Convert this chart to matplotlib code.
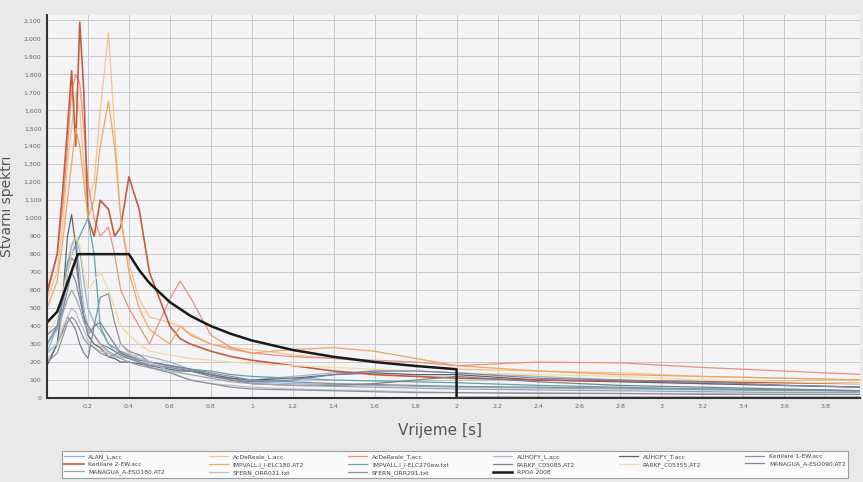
import matplotlib
matplotlib.use("Agg")
from matplotlib import pyplot as plt
from matplotlib.ticker import FuncFormatter
import numpy as np

# periods [s] shared by all records
T = [0, 0.05, 0.08, 0.1, 0.12, 0.14, 0.16, 0.18, 0.2, 0.23, 0.26, 0.3, 0.33, 0.36, 0.4, 0.45,
     0.5, 0.6, 0.65, 0.7, 0.8, 0.9, 1.0, 1.2, 1.4, 1.6, 1.8, 2.0, 2.4, 2.8, 3.2, 3.6, 4.0]

alan_l = [250, 400, 600, 750, 850, 880, 820, 650, 500, 420, 380, 300, 260, 230, 220, 200,
          190, 170, 160, 150, 130, 110, 90, 80, 75, 70, 65, 60, 55, 50, 45, 40, 38]
acde_l = [550, 700, 1000, 1300, 1500, 1700, 1600, 1300, 1100, 1200, 1600, 2030, 1500, 1000, 750, 550,
          450, 420, 400, 360, 300, 280, 270, 240, 220, 200, 180, 160, 150, 140, 120, 110, 100]
acde_t = [600, 800, 1100, 1400, 1700, 1800, 1750, 1500, 1200, 1000, 900, 950, 800, 600, 500, 400,
          300, 550, 650, 560, 350, 280, 250, 230, 220, 210, 200, 180, 200, 195, 170, 150, 130]
auhofy_l = [200, 300, 500, 700, 850, 900, 700, 500, 400, 350, 300, 250, 230, 220, 230, 240,
            230, 200, 180, 160, 130, 110, 100, 120, 140, 150, 150, 140, 120, 100, 80, 70, 60]
auhofy_t = [180, 300, 600, 900, 1020, 850, 600, 450, 350, 300, 280, 230, 220, 200, 200, 190,
            180, 160, 150, 150, 130, 110, 100, 110, 130, 140, 130, 130, 100, 90, 80, 70, 60]
ked1 = [300, 400, 550, 700, 780, 750, 600, 450, 350, 400, 560, 580, 420, 300, 260, 240,
        200, 180, 170, 160, 140, 120, 100, 90, 80, 75, 70, 65, 60, 55, 50, 45, 40]
ked2 = [580, 800, 1200, 1500, 1820, 1400, 2090, 1700, 1000, 900, 1100, 1050, 900, 950, 1230, 1050,
        700, 400, 330, 300, 260, 230, 210, 180, 150, 130, 120, 110, 100, 95, 90, 85, 80]
imp180 = [500, 650, 900, 1100, 1300, 1500, 1400, 1200, 1000, 1100, 1400, 1650, 1400, 1000, 700, 500,
          380, 300, 400, 350, 300, 270, 250, 270, 280, 260, 220, 180, 150, 130, 120, 110, 100]
imp270 = [300, 400, 600, 750, 800, 850, 900, 950, 1000, 800, 400, 300, 280, 250, 230, 220,
          200, 180, 170, 160, 150, 130, 120, 110, 100, 95, 90, 85, 70, 60, 50, 45, 40]
parkf085 = [250, 300, 380, 450, 420, 380, 300, 250, 220, 400, 420, 350, 300, 250, 230, 210,
            200, 180, 170, 160, 130, 100, 80, 70, 70, 80, 100, 120, 90, 70, 60, 50, 40]
parkf355 = [350, 450, 600, 700, 800, 900, 850, 700, 600, 650, 700, 600, 500, 400, 350, 300,
            260, 240, 230, 220, 210, 200, 190, 180, 170, 160, 150, 140, 130, 120, 100, 90, 80]
man090 = [350, 400, 500, 600, 700, 650, 550, 450, 400, 350, 300, 280, 260, 240, 220, 200,
          180, 170, 160, 150, 120, 100, 90, 100, 130, 150, 150, 140, 110, 100, 90, 70, 60]
man180 = [300, 380, 480, 550, 600, 560, 500, 420, 380, 350, 300, 260, 240, 220, 200, 180,
          170, 150, 140, 130, 110, 90, 80, 70, 65, 60, 55, 50, 45, 40, 35, 30, 30]
sfern021 = [250, 300, 400, 450, 500, 480, 420, 380, 320, 280, 260, 250, 240, 300, 250, 220,
            200, 150, 120, 100, 80, 70, 60, 50, 45, 40, 35, 30, 30, 25, 25, 20, 20]
sfern291 = [200, 250, 350, 420, 450, 430, 380, 330, 300, 280, 250, 230, 240, 260, 240, 200,
            170, 140, 120, 100, 80, 60, 50, 45, 40, 35, 30, 30, 25, 25, 20, 20, 20]

# design spectrum
T_rpoa = [0, 0.05, 0.1, 0.15, 0.4, 0.45, 0.5, 0.6, 0.7, 0.8, 0.9, 1.0, 1.2, 1.4, 1.6, 1.8, 2.0, 2.0, 4.0]
rpoa = [420, 480, 640, 800, 800, 711, 640, 533, 457, 400, 356, 320, 267, 229, 200, 178, 160, 0, 0]

records = [
    ("ALAN_L.acc", alan_l, "#8fb4de", 0.9),
    ("AcDeReale_L.acc", acde_l, "#f3c38f", 0.9),
    ("AcDeReale_T.acc", acde_t, "#ee8f7c", 0.9),
    ("AUHOFY_L.acc", auhofy_l, "#aab5cc", 0.9),
    ("AUHOFY_T.acc", auhofy_t, "#5c6473", 0.9),
    ("Kedilare 1-EW.acc", ked1, "#8a8f9a", 0.9),
    ("Kedilare 2-EW.acc", ked2, "#c45c3f", 1.2),
    ("IMPVALL.I_I-ELC180.AT2", imp180, "#f0a560", 0.9),
    ("IMPVALL.I_I-ELC270ew.txt", imp270, "#5fa5a8", 0.9),
    ("PARKF_C05085.AT2", parkf085, "#7f8288", 0.9),
    ("PARKF_C05355.AT2", parkf355, "#f2dca0", 0.9),
    ("MANAGUA_A-ESO090.AT2", man090, "#7b87a5", 0.9),
    ("MANAGUA_A-ESO180.AT2", man180, "#a0a5ad", 0.9),
    ("SFERN_ORR021.txt", sfern021, "#bcc1c7", 0.9),
    ("SFERN_ORR291.txt", sfern291, "#8e9399", 0.9),
]

fig = plt.figure(figsize=(8.63, 4.82), dpi=100, facecolor='#e9e9e9')
ax = fig.add_axes([47/863, 84/482, 813/863, 383/482])
ax.set_facecolor('#f4f4f6')

handles = []
for name, vals, col, lw in records:
    h, = ax.plot(T, vals, color=col, linewidth=lw, label=name)
    handles.append(h)
h, = ax.plot(T_rpoa, rpoa, color='#1a1a1a', linewidth=1.8, label='RPOA 2008')
handles.append(h)

ax.set_xlim(0, 3.97)
ax.set_ylim(0, 2130)
ax.set_xticks(np.arange(0.2, 3.9, 0.2))
ax.set_yticks(np.arange(0, 2101, 100))
ax.xaxis.set_major_formatter(FuncFormatter(lambda v, p: ('%g' % round(v, 1))))
ax.yaxis.set_major_formatter(FuncFormatter(lambda v, p: '{:,}'.format(int(round(v)))))
ax.tick_params(labelsize=4.5, colors='#666666', length=0, pad=4)
ax.grid(True, color='#c8c8c8', linewidth=0.7)
ax.set_axisbelow(True)

for s in ['top', 'right']:
    ax.spines[s].set_visible(False)
for s in ['left', 'bottom']:
    ax.spines[s].set_color('#333333')
    ax.spines[s].set_linewidth(1.5)

ax.set_ylabel('Stvarni spektri', fontsize=10, color='#555555')
ax.yaxis.set_label_coords(-33/813, 0.5)
ax.set_xlabel('Vrijeme [s]', fontsize=11, color='#555555')
ax.xaxis.set_label_coords(0.483, -0.065)

# matplotlib fills legend columns first; reorder so rows read left to right
ncol = 6
order = []
nrows = 3
for c in range(ncol):
    for r in range(nrows):
        i = r * ncol + c
        if i < len(handles):
            order.append(i)
leg = fig.legend([handles[i] for i in order], [handles[i].get_label() for i in order],
                 loc='lower left', bbox_to_anchor=(62/863, 4/482, 786/863, 36/482),
                 mode='expand', ncol=ncol, fontsize=4.3, handlelength=3.2,
                 frameon=True, fancybox=False, borderaxespad=0, labelspacing=0.35,
                 borderpad=0.4, columnspacing=1.0)
leg.get_frame().set_edgecolor('#888888')
leg.get_frame().set_linewidth(0.8)
for t in leg.get_texts():
    t.set_color('#444444')

plt.savefig('out.png', dpi=100, facecolor=fig.get_facecolor())
